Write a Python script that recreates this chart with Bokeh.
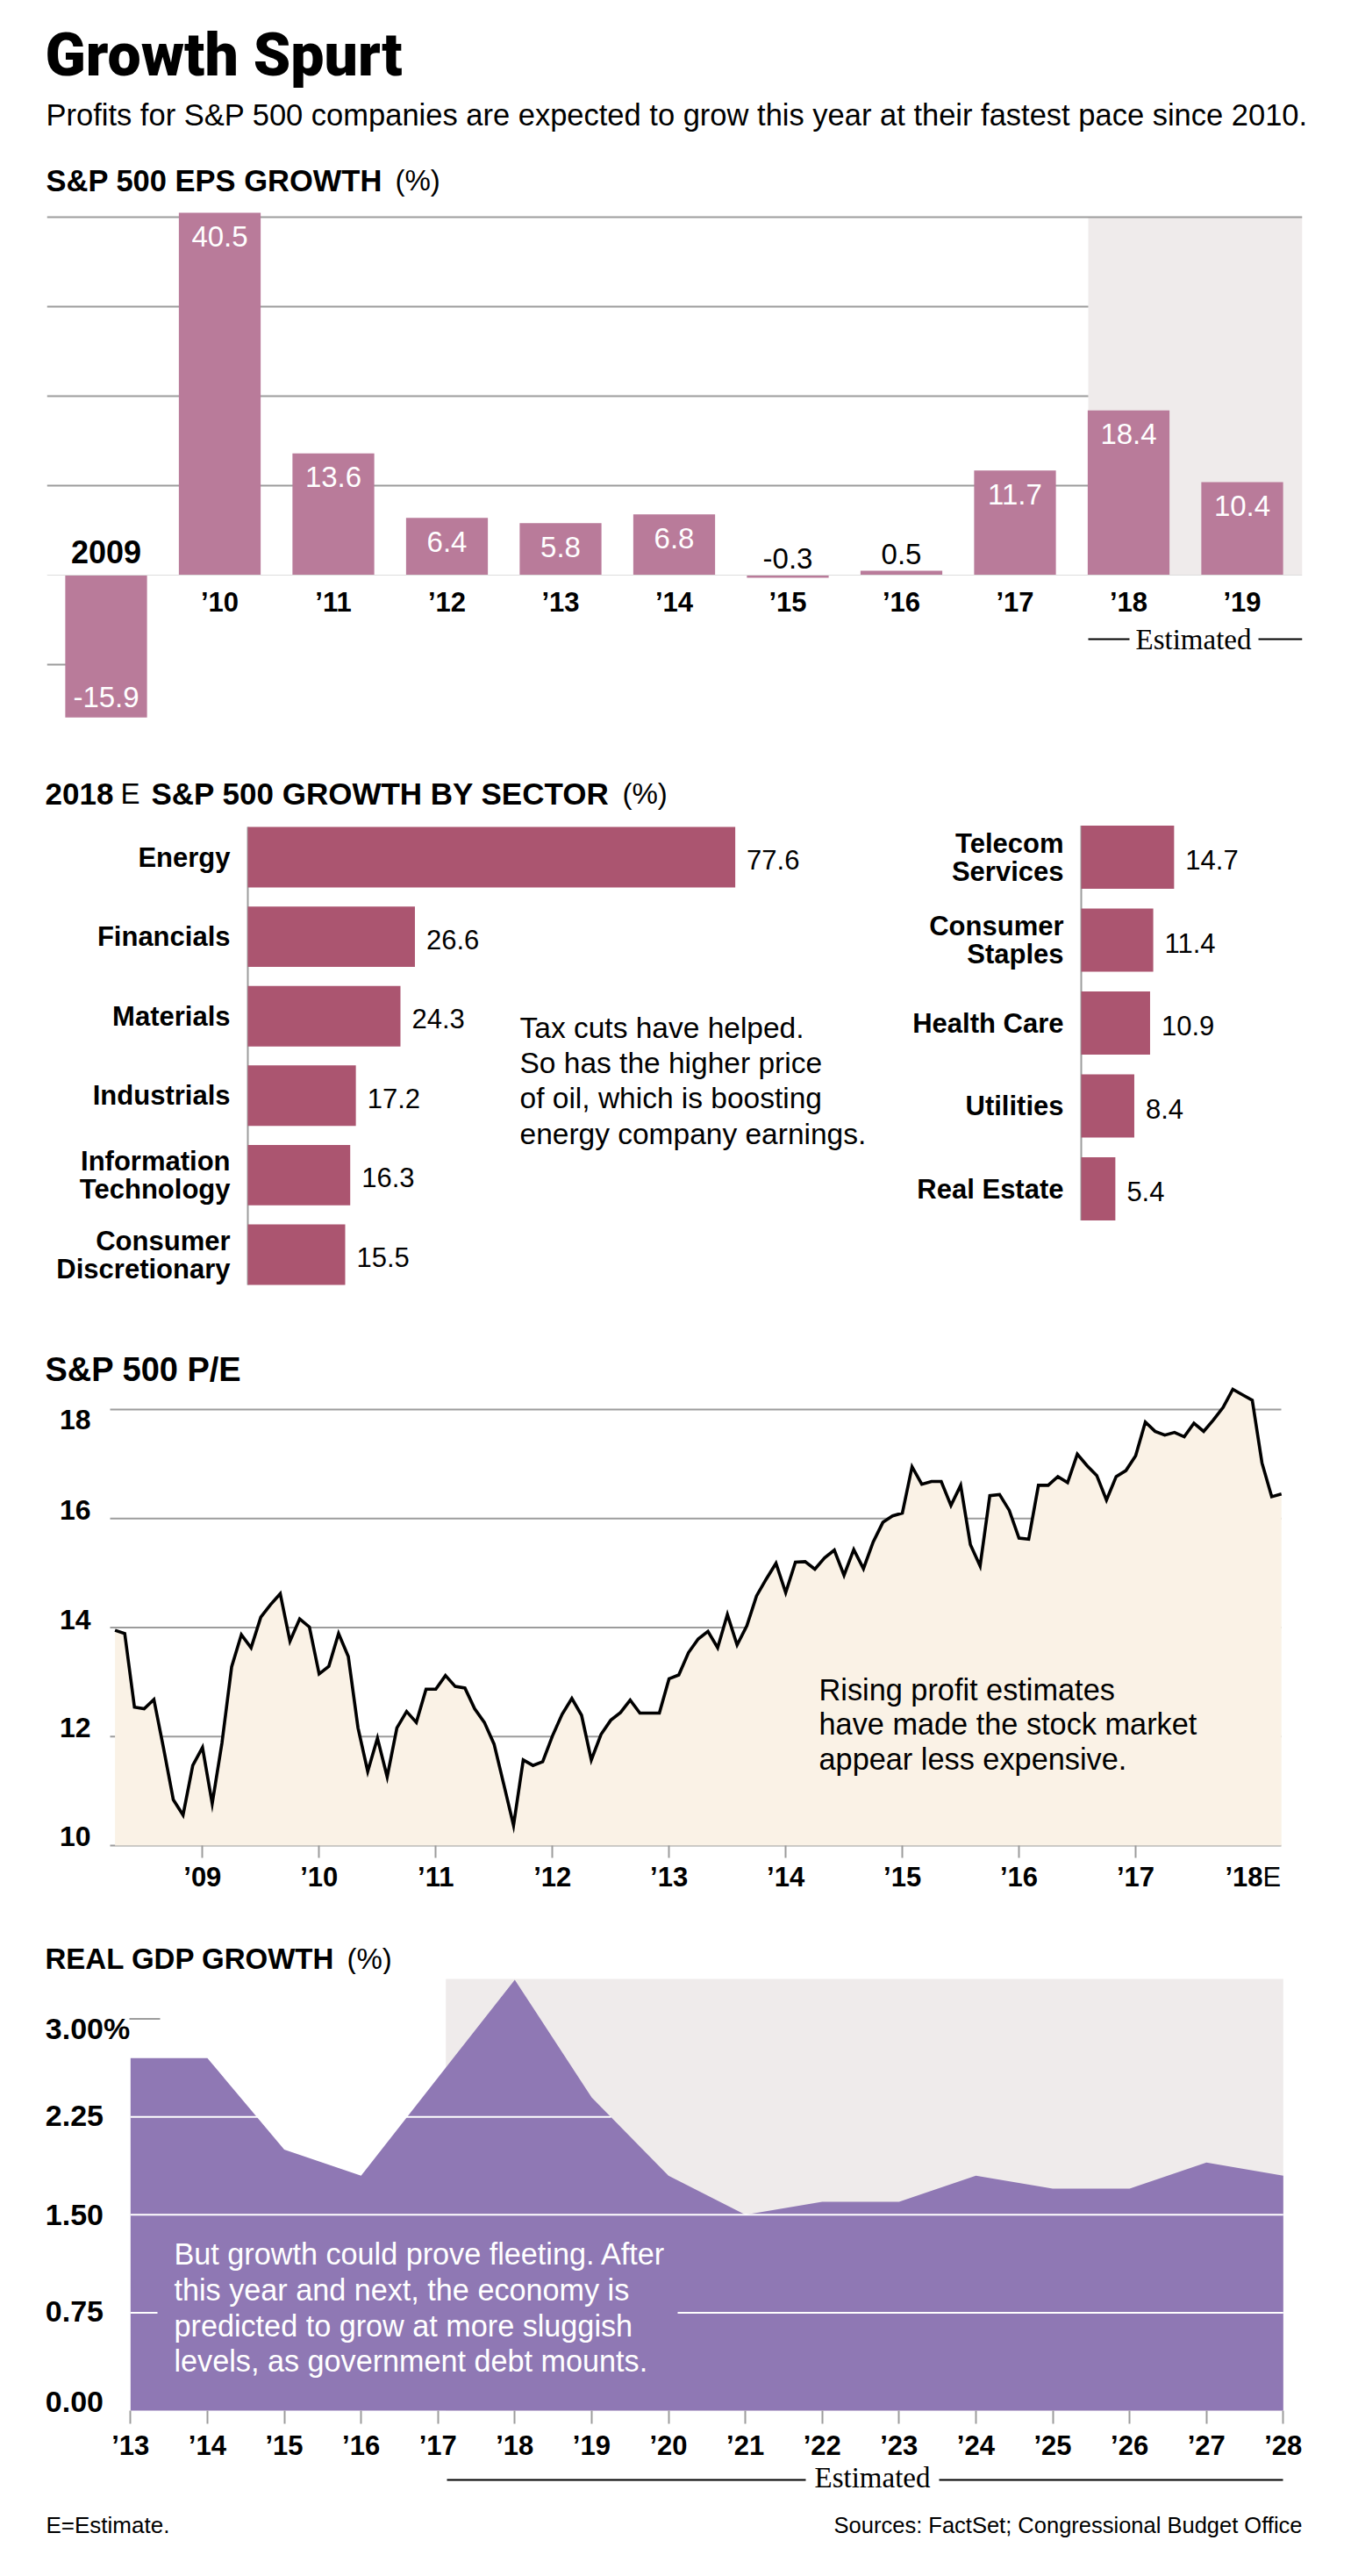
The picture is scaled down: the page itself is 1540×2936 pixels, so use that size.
from bokeh.plotting import figure
from bokeh.layouts import column, row
from bokeh.models import Range1d, Label, LinearAxis, FixedTicker
from bokeh.embed import file_html
from bokeh.resources import INLINE

# ---------- data ----------
eps_years = [2009, 2010, 2011, 2012, 2013, 2014, 2015, 2016, 2017, 2018, 2019]
eps_values = [-15.9, 40.5, 13.6, 6.4, 5.8, 6.8, -0.3, 0.5, 11.7, 18.4, 10.4]
eps_tick_labels = ["’10", "’11", "’12", "’13", "’14", "’15", "’16", "’17", "’18", "’19"]
eps_grid = [40, 30, 20, 10, -10]

left_sectors = ["Energy", "Financials", "Materials", "Industrials", "Information\nTechnology", "Consumer\nDiscretionary"]
left_growth = [77.6, 26.6, 24.3, 17.2, 16.3, 15.5]
right_sectors = ["Telecom\nServices", "Consumer\nStaples", "Health Care", "Utilities", "Real Estate"]
right_growth = [14.7, 11.4, 10.9, 8.4, 5.4]

pe_values = [
    13.95, 13.89, 12.54, 12.51, 12.68, 11.78, 10.84, 10.56, 11.47, 11.80, 10.77, 11.88,
    13.28, 13.87, 13.63, 14.19, 14.42, 14.62, 13.75, 14.16, 14.01, 13.15, 13.29, 13.89,
    13.47, 12.16, 11.36, 11.97, 11.26, 12.16, 12.46, 12.26, 12.87, 12.87, 13.12, 12.92,
    12.89, 12.51, 12.26, 11.86, 11.12, 10.37, 11.57, 11.47, 11.54, 12.01, 12.41, 12.70,
    12.39, 11.57, 12.04, 12.30, 12.44, 12.67, 12.43, 12.43, 12.43, 13.06, 13.13, 13.54,
    13.79, 13.93, 13.63, 14.24, 13.68, 14.03, 14.58, 14.89, 15.18, 14.64, 15.20, 15.21,
    15.07, 15.28, 15.42, 14.96, 15.43, 15.08, 15.57, 15.93, 16.05, 16.10, 16.95, 16.63,
    16.68, 16.68, 16.24, 16.61, 15.52, 15.13, 16.42, 16.44, 16.15, 15.64, 15.62, 16.61,
    16.61, 16.77, 16.66, 17.18, 16.97, 16.79, 16.34, 16.77, 16.88, 17.15, 17.77, 17.60,
    17.53, 17.58, 17.50, 17.75, 17.60, 17.81, 18.04, 18.37, 18.27, 18.17, 17.02, 16.40, 16.45,
]
pe_tick_months = [9, 21, 33, 45, 57, 69, 81, 93, 105]
pe_tick_labels = ["’09", "’10", "’11", "’12", "’13", "’14", "’15", "’16", "’17"]
pe_y_ticks = [18, 16, 14, 12, 10]

gdp_years = list(range(2013, 2029))
gdp_values = [2.7, 2.7, 2.0, 1.8, 2.55, 3.3, 2.4, 1.8, 1.5, 1.6, 1.6, 1.8, 1.7, 1.7, 1.9, 1.8]
gdp_tick_labels = ["’13", "’14", "’15", "’16", "’17", "’18", "’19", "’20", "’21", "’22", "’23", "’24", "’25", "’26", "’27", "’28"]
gdp_y_ticks = [3.0, 2.25, 1.5, 0.75, 0.0]
gdp_y_labels = ["3.00%", "2.25", "1.50", "0.75", "0.00"]

# ---------- style ----------
SANS = "Liberation Sans"
SERIF = "Liberation Serif"
GRID = "#9c9c9c"
EPS_BAR = "#B97B9A"
SECTOR_BAR = "#AB5570"
PURPLE = "#8F78B4"
BAND = "#EFEBEB"
BEIGE = "#FAF2E6"
PAGE_W = 1524
ORIGIN = 8


def base(h, xr, yr, left=0, right=0, top=0, bottom=0, w=PAGE_W):
    p = figure(width=w, height=h, x_range=Range1d(*xr), y_range=Range1d(*yr),
               output_backend="svg", toolbar_location=None,
               x_axis_location=None, y_axis_location=None,
               min_border_left=left, min_border_right=right,
               min_border_top=top, min_border_bottom=bottom, frame_align=False)
    p.center = []
    p.outline_line_color = None
    p.border_fill_color = None
    p.background_fill_color = None
    return p


def strip(y0, y1):
    """Text-only band whose data coordinates are page pixels."""
    return base(y1 - y0, (ORIGIN, ORIGIN + PAGE_W), (y1, y0))


def put(p, x, y, text, size, bold=False, color="black", font=SANS, align="left", dx=0, dy=0):
    p.add_layout(Label(x=x, y=y, text=text, text_font=font, text_font_size=f"{size}px",
                       x_offset=dx, y_offset=-dy,
                       text_font_style="bold" if bold else "normal", text_color=color,
                       text_align=align, text_baseline="middle"))


def bottom_axis(location, ticks, labels, tick_len, standoff, size=31):
    return LinearAxis(fixed_location=location, ticker=FixedTicker(ticks=ticks),
                      major_label_overrides=dict(zip(ticks, labels)),
                      major_tick_in=0, major_tick_out=tick_len, minor_tick_line_color=None,
                      major_tick_line_color=GRID, major_tick_line_width=2,
                      axis_line_color=None, major_label_standoff=standoff,
                      major_label_text_font=SANS, major_label_text_font_style="bold",
                      major_label_text_font_size=f"{size}px", major_label_text_color="black")


# ---------- header ----------
head = strip(8, 228)
put(head, 51, 62, "Growth Spurt", 68, bold=True, font="Roboto Black")
put(head, 52, 130, "Profits for S&P 500 companies are expected to grow this year at their fastest pace since 2010.", 34.5)
put(head, 52, 205, "S&P 500 EPS GROWTH", 34.5, bold=True)
put(head, 450, 205, "(%)", 33)

# ---------- EPS bars ----------
eps_step = 129.5
eps_unit = 10.2
ex = lambda px: 2009 + (px - 120.5) / eps_step
ey = lambda py: (655 - py) / eps_unit
p1 = base(642, (ex(53), ex(1484)), (ey(830), ey(235)), left=45, right=48, top=7, bottom=40)
band_left = ex(1240)
p1.quad(left=[band_left], right=[ex(1484)], bottom=[0], top=[40], color=BAND, line_color=None)
grid_x1 = [ex(1484), band_left, band_left, band_left, ex(75)]
p1.segment(x0=[ex(53)] * len(eps_grid), x1=grid_x1, y0=eps_grid, y1=eps_grid, line_color=GRID, line_width=2)
p1.vbar(x=eps_years, top=eps_values, width=0.72, color=EPS_BAR, line_color=None)
p1.add_layout(LinearAxis(fixed_location=0, ticker=FixedTicker(ticks=eps_years[1:]),
                         major_label_overrides=dict(zip(eps_years[1:], eps_tick_labels)),
                         major_tick_line_color=None, minor_tick_line_color=None,
                         axis_line_color="#dddddd", axis_line_width=1, major_label_standoff=7,
                         major_label_text_font=SANS, major_label_text_font_style="bold",
                         major_label_text_font_size="31px", major_label_text_color="black"), "below")
big = [i for i, v in enumerate(eps_values) if abs(v) > 1]
small = [i for i, v in enumerate(eps_values) if abs(v) <= 1]
p1.text(x=[eps_years[i] for i in big], y=[eps_values[i] for i in big],
        text=[str(eps_values[i]) for i in big],
        y_offset=[27 if eps_values[i] > 0 else -23 for i in big],
        text_color="white", text_font={"value": SANS}, text_font_size={"value": "33px"},
        text_align="center", text_baseline="middle")
p1.text(x=[eps_years[i] for i in small], y=[max(eps_values[i], 0) for i in small],
        text=[str(eps_values[i]) for i in small], y_offset=-19,
        text_color="black", text_font={"value": SANS}, text_font_size={"value": "33px"},
        text_align="center", text_baseline="middle")
put(p1, ex(120.5), ey(628), "2009", 36, bold=True, align="center")
est_y = ey(728)
p1.segment(x0=[ex(1240), ex(1434)], x1=[ex(1287), ex(1484)], y0=[est_y] * 2, y1=[est_y] * 2, line_color="black", line_width=2)
put(p1, ex(1360), est_y, "Estimated", 33, font=SERIF, align="center")

# ---------- sector section ----------
s2 = strip(870, 925)
put(s2, 51, 904, "2018", 35, bold=True)
put(s2, 137, 904, "E", 33)
put(s2, 172, 904, "S&P 500 GROWTH BY SECTOR", 35, bold=True)
put(s2, 709, 904, "(%)", 33)

FIG_TOP, FIG_BOTTOM = 925, 1510


def sector_chart(names, values, base_px, unit, first_top, row_px, page_left, page_right):
    n = len(names)
    pos = list(range(n))
    to_y = lambda py: (py - first_top) / row_px - 0.5
    p = base(FIG_BOTTOM - FIG_TOP,
             ((page_left - base_px) / unit, (page_right - base_px) / unit),
             (to_y(FIG_BOTTOM), to_y(FIG_TOP)), w=page_right - page_left)
    half = 0.38
    p.segment(x0=[0], x1=[0], y0=[-half], y1=[n - 1 + half], line_color=GRID, line_width=2)
    p.hbar(y=pos, left=0, right=values, height=half * 2, color=SECTOR_BAR, line_color=None)
    p.text(x=values, y=pos, text=[str(v) for v in values], x_offset=13, y_offset=3,
           text_font={"value": SANS}, text_font_size={"value": "31px"}, text_baseline="middle")
    for i, name in zip(pos, names):
        lines = name.split("\n")
        for j, line in enumerate(lines):
            put(p, 0, i, line, 31, bold=True, align="right", dx=-20, dy=(j - (len(lines) - 1) / 2) * 32)
    return p, to_y


p2a, y2a = sector_chart(left_sectors, left_growth, 282, 7.16, 931.2, 90.6, 8, 1000)
p2b, _ = sector_chart(right_sectors, right_growth, 1232, 7.2, 929.25, 94.5, 1000, 1532)
for y, line in zip([1171, 1211, 1251, 1292],
                   ["Tax cuts have helped.", "So has the higher price", "of oil, which is boosting", "energy company earnings."]):
    put(p2a, (592 - 282) / 7.16, y2a(y), line, 33.5)

# ---------- P/E ----------
pe_months = list(range(len(pe_values)))
month_px = 11.08
py_unit = 62.125
mx = lambda px: (px - 130.6) / month_px
vy = lambda py: 18 + (1606 - py) / py_unit
p3 = base(660, (mx(8), mx(1532)), (vy(2170), vy(1510)))
p3.segment(x0=[mx(125)] * 5, x1=[mx(1460)] * 5, y0=pe_y_ticks, y1=pe_y_ticks, line_color=GRID, line_width=2)
p3.varea(x=pe_months, y1=[10] * len(pe_values), y2=pe_values, color=BEIGE)
p3.line(x=pe_months, y=pe_values, line_color="black", line_width=3.6, line_join="miter")
p3.add_layout(bottom_axis(10, pe_tick_months, pe_tick_labels, 14, 4), "below")
put(p3, mx(51), vy(1560), "S&P 500 P/E", 38, bold=True)
for tick, off in zip(pe_y_ticks, [11, -10, -9, -10, -11]):
    put(p3, mx(125), tick, str(tick), 32, bold=True, align="right", dx=-22, dy=off)
for y, line in zip([1925, 1964, 2004],
                   ["Rising profit estimates", "have made the stock market", "appear less expensive."]):
    put(p3, mx(933), vy(y), line, 34.3)
put(p3, mx(1396), vy(2139), "’18", 31, bold=True)
put(p3, mx(1439), vy(2139), "E", 31)

# ---------- GDP ----------
s4 = strip(2170, 2250)
put(s4, 51, 2232, "REAL GDP GROWTH", 33, bold=True)
put(s4, 395, 2232, "(%)", 33)

yr_px = 87.6
gx = lambda px: 2013 + (px - 148.3) / yr_px
gy_unit = 148.8
gy = lambda py: (2747 - py) / gy_unit
p4 = base(600, (gx(8), gx(1532)), (gy(2850), gy(2250)))
p4.quad(left=[gx(507.7)], right=[2028], bottom=[0], top=[gy(2255)], color=BAND, line_color=None)
p4.varea(x=gdp_years, y1=[0] * len(gdp_years), y2=gdp_values, color=PURPLE)
p4.segment(x0=[2013, 2013, gx(772), 2013], x1=[gx(696), 2028, 2028, gx(179)],
           y0=[2.25, 1.5, 0.75, 0.75], y1=[2.25, 1.5, 0.75, 0.75], line_color="white", line_width=2)
p4.segment(x0=[gx(147)], x1=[gx(182)], y0=[3.0], y1=[3.0], line_color=GRID, line_width=2)
p4.add_layout(bottom_axis(0, gdp_years, gdp_tick_labels, 15, 7), "below")
for tick, label, off in zip(gdp_y_ticks, gdp_y_labels, [11, -1, 0, -1, -10]):
    put(p4, 2013, tick, label, 34, bold=True, dx=-97, dy=off)
for y, line in zip([2568, 2609, 2650, 2690],
                   ["But growth could prove fleeting. After", "this year and next, the economy is",
                    "predicted to grow at more sluggish", "levels, as government debt mounts."]):
    put(p4, gx(198), gy(y), line, 34.2, color="white")
gest_y = gy(2826)
p4.segment(x0=[gx(509), gx(1070)], x1=[gx(918), gx(1462)], y0=[gest_y] * 2, y1=[gest_y] * 2, line_color="black", line_width=2)
put(p4, gx(994), gy(2823), "Estimated", 33, font=SERIF, align="center")

# ---------- footer ----------
foot = strip(2850, 2900)
put(foot, 52, 2877, "E=Estimate.", 26)
put(foot, 1484, 2877, "Sources: FactSet; Congressional Budget Office", 25.5, align="right")

page = column(head, p1, s2, row(p2a, p2b, spacing=0), p3, s4, p4, foot, spacing=0, margin=(8, 0, 0, 8))
open("out.html", "w").write(file_html(page, INLINE))
